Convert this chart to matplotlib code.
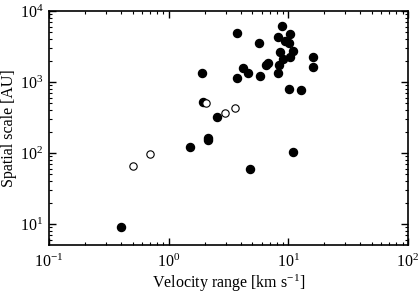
import matplotlib
matplotlib.use("Agg")
import matplotlib.pyplot as plt
from matplotlib.ticker import LogLocator, NullFormatter

plt.rcParams['font.family'] = ['Liberation Serif', 'DejaVu Serif']
plt.rcParams['mathtext.fontset'] = 'custom'
plt.rcParams['mathtext.rm'] = 'Liberation Serif'
plt.rcParams['mathtext.it'] = 'Liberation Serif:italic'
plt.rcParams['mathtext.bf'] = 'Liberation Serif:bold'

# Filled symbols: velocity range [km/s], spatial scale [AU]
filled_v = [8.9, 3.72, 10.3, 8.14, 5.65, 9.31, 10.06, 8.56, 10.99, 16.1, 10.3,
            9.06, 8.4, 6.46, 6.80, 15.96, 4.2, 4.64, 1.905, 8.15, 5.81, 3.73,
            10.16, 12.7, 1.92, 2.52, 2.12, 2.12, 1.507, 4.81, 10.99, 0.40]
filled_s = [6150, 4850, 4700, 4350, 3580, 3820, 3510, 2670, 2730, 2270, 2270,
            2090, 1750, 1750, 1835, 1610, 1560, 1360, 1360, 1360, 1230, 1157,
            796, 771, 519, 325, 165, 152, 123, 59.5, 102, 9.08]

# Open symbols
open_v = [2.05, 2.94, 3.61, 0.698, 0.503]
open_s = [514, 362, 424, 96, 65.7]

fig = plt.figure(figsize=(4.19, 2.94), dpi=100)
ax = fig.add_axes([49/419, 1-245/294, (408-49)/419, (245-11)/294])

ax.plot(filled_v, filled_s, 'o', color='black', markersize=5.8, linestyle='none')
ax.plot(open_v, open_s, 'o', markerfacecolor='white', markeredgecolor='black',
        markeredgewidth=0.8, markersize=5.3, linestyle='none')

ax.set_xscale('log')
ax.set_yscale('log')
ax.set_xlim(0.1, 100)
ax.set_ylim(5.06, 1e4)

ax.xaxis.set_major_locator(LogLocator(base=10, numticks=10))
ax.yaxis.set_major_locator(LogLocator(base=10, numticks=10))
ax.xaxis.set_minor_locator(LogLocator(base=10, subs=range(2, 10), numticks=20))
ax.yaxis.set_minor_locator(LogLocator(base=10, subs=range(2, 10), numticks=20))
ax.xaxis.set_minor_formatter(NullFormatter())
ax.yaxis.set_minor_formatter(NullFormatter())

ax.tick_params(which='both', direction='in', top=True, right=True, labelsize=11.5)
ax.tick_params(which='major', length=5, width=1)
ax.tick_params(which='minor', length=2.5, width=0.8)
ax.tick_params(axis='x', pad=6)
ax.tick_params(axis='y', pad=4)
for s in ax.spines.values():
    s.set_linewidth(1.2)

ax.set_xlabel('Velocity range [km s$^{-1}$]', fontsize=11.5)
ax.set_ylabel('Spatial scale [AU]', fontsize=11.5)
ax.xaxis.set_label_coords((229 - 49) / 359, (245 - 283) / 234)
ax.yaxis.set_label_coords((9 - 49) / 359, (245 - 128) / 234)
ax.xaxis.label.set_va('center')
ax.yaxis.label.set_va('center')

fig.savefig('out.png', dpi=100)
